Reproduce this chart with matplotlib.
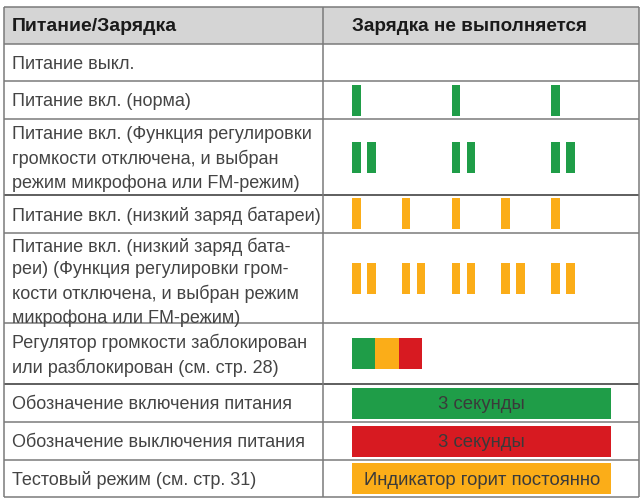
import matplotlib.pyplot as plt
from matplotlib.patches import Rectangle

plt.rcParams['font.family'] = ['Liberation Sans', 'DejaVu Sans']

# Заголовки таблицы
header_left = "Питание/Зарядка"
header_right = "Зарядка не выполняется"

# Строки таблицы (левый столбец)
row_labels = [
    "Питание выкл.",
    "Питание вкл. (норма)",
    "Питание вкл. (Функция регулировки\nгромкости отключена, и выбран\nрежим микрофона или FM-режим)",
    "Питание вкл. (низкий заряд батареи)",
    "Питание вкл. (низкий заряд бата-\nреи) (Функция регулировки гром-\nкости отключена, и выбран режим\nмикрофона или FM-режим)",
    "Регулятор громкости заблокирован\nили разблокирован (см. стр. 28)",
    "Обозначение включения питания",
    "Обозначение выключения питания",
    "Тестовый режим (см. стр. 31)",
]

# Индикатор (правый столбец)
led_mode = ["off", "blink", "blink", "blink", "blink", "sequence", "steady", "steady", "steady"]
led_color = ["", "green", "green", "orange", "orange", "", "green", "red", "orange"]
blink_count = [0, 3, 3, 5, 5, 0, 0, 0, 0]    # число групп вспышек
blink_group = [0, 1, 2, 1, 2, 0, 0, 0, 0]    # вспышек в группе
blink_period = [0, 2, 2, 1, 1, 0, 0, 0, 0]   # интервал между группами
sequence_colors = ["green", "orange", "red"]
steady_text = ["", "", "", "", "", "", "3 секунды", "3 секунды", "Индикатор горит постоянно"]

colors = {"green": "#1f9d48", "orange": "#fbad18", "red": "#d71a21"}

# Разметка (в пикселях)
W, H = 641, 498
x_left, x_mid, x_right = 4, 323, 639
row_edges = [7, 44, 81, 119, 195, 232.7, 323.3, 384, 422, 460, 497]
dark_rows = [4, 7]
text_shift = [1.5, 1.5, 2, 1.5, 4, 1.5, 1.5, 1.5, 1.5]  # поправка по вертикали
led_x0 = 352.3
step = 49.7
bar_w = 8.4
pair_gap = 15
bar_h = 31
seq_w = 23.1
steady_w = 258.7

fig = plt.figure(figsize=(W / 100, H / 100), dpi=100)
ax = fig.add_axes([0, 0, 1, 1])
ax.set_xlim(0, W)
ax.set_ylim(H, 0)
ax.axis("off")

# Заголовок
ax.add_patch(Rectangle((x_left, row_edges[0]), x_right - x_left, row_edges[1] - row_edges[0],
                       facecolor="#d5d5d5", edgecolor="none"))
y_head = (row_edges[0] + row_edges[1]) / 2 + 1
ax.text(12, y_head, header_left, fontsize=14, fontweight="bold", color="#1a1a1a", va="center")
ax.text(352, y_head, header_right, fontsize=13.6, fontweight="bold", color="#1a1a1a", va="center")

for i, label in enumerate(row_labels):
    top, bottom = row_edges[i + 1], row_edges[i + 2]
    yc = (top + bottom) / 2
    ax.text(12, yc + text_shift[i], label, fontsize=13, color="#444444", va="center",
            linespacing=1.45)

    y0 = yc - bar_h / 2
    mode = led_mode[i]
    if mode == "blink":
        xs = []
        for k in range(blink_count[i]):
            for j in range(blink_group[i]):
                xs.append((led_x0 + k * blink_period[i] * step + j * pair_gap, bar_w))
        ax.broken_barh(xs, (y0, bar_h), facecolors=colors[led_color[i]])
    elif mode == "sequence":
        xs = [(led_x0 + k * seq_w, seq_w) for k in range(len(sequence_colors))]
        ax.broken_barh(xs, (y0, bar_h), facecolors=[colors[c] for c in sequence_colors])
    elif mode == "steady":
        ax.broken_barh([(led_x0, steady_w)], (y0, bar_h), facecolors=colors[led_color[i]])
        ax.text(led_x0 + steady_w / 2, yc + 1.5, steady_text[i], fontsize=13.3, color="#3a3a3a",
                ha="center", va="center")

# Линии сетки
for i, y in enumerate(row_edges):
    c = "#333333" if i in dark_rows else "#7a7a7a"
    ax.hlines(y, x_left, x_right, colors=c, linewidth=1.1)
ax.vlines([x_left, x_mid, x_right], row_edges[0], row_edges[-1], colors="#7a7a7a", linewidth=1.1)

fig.savefig("out.png", dpi=100)
